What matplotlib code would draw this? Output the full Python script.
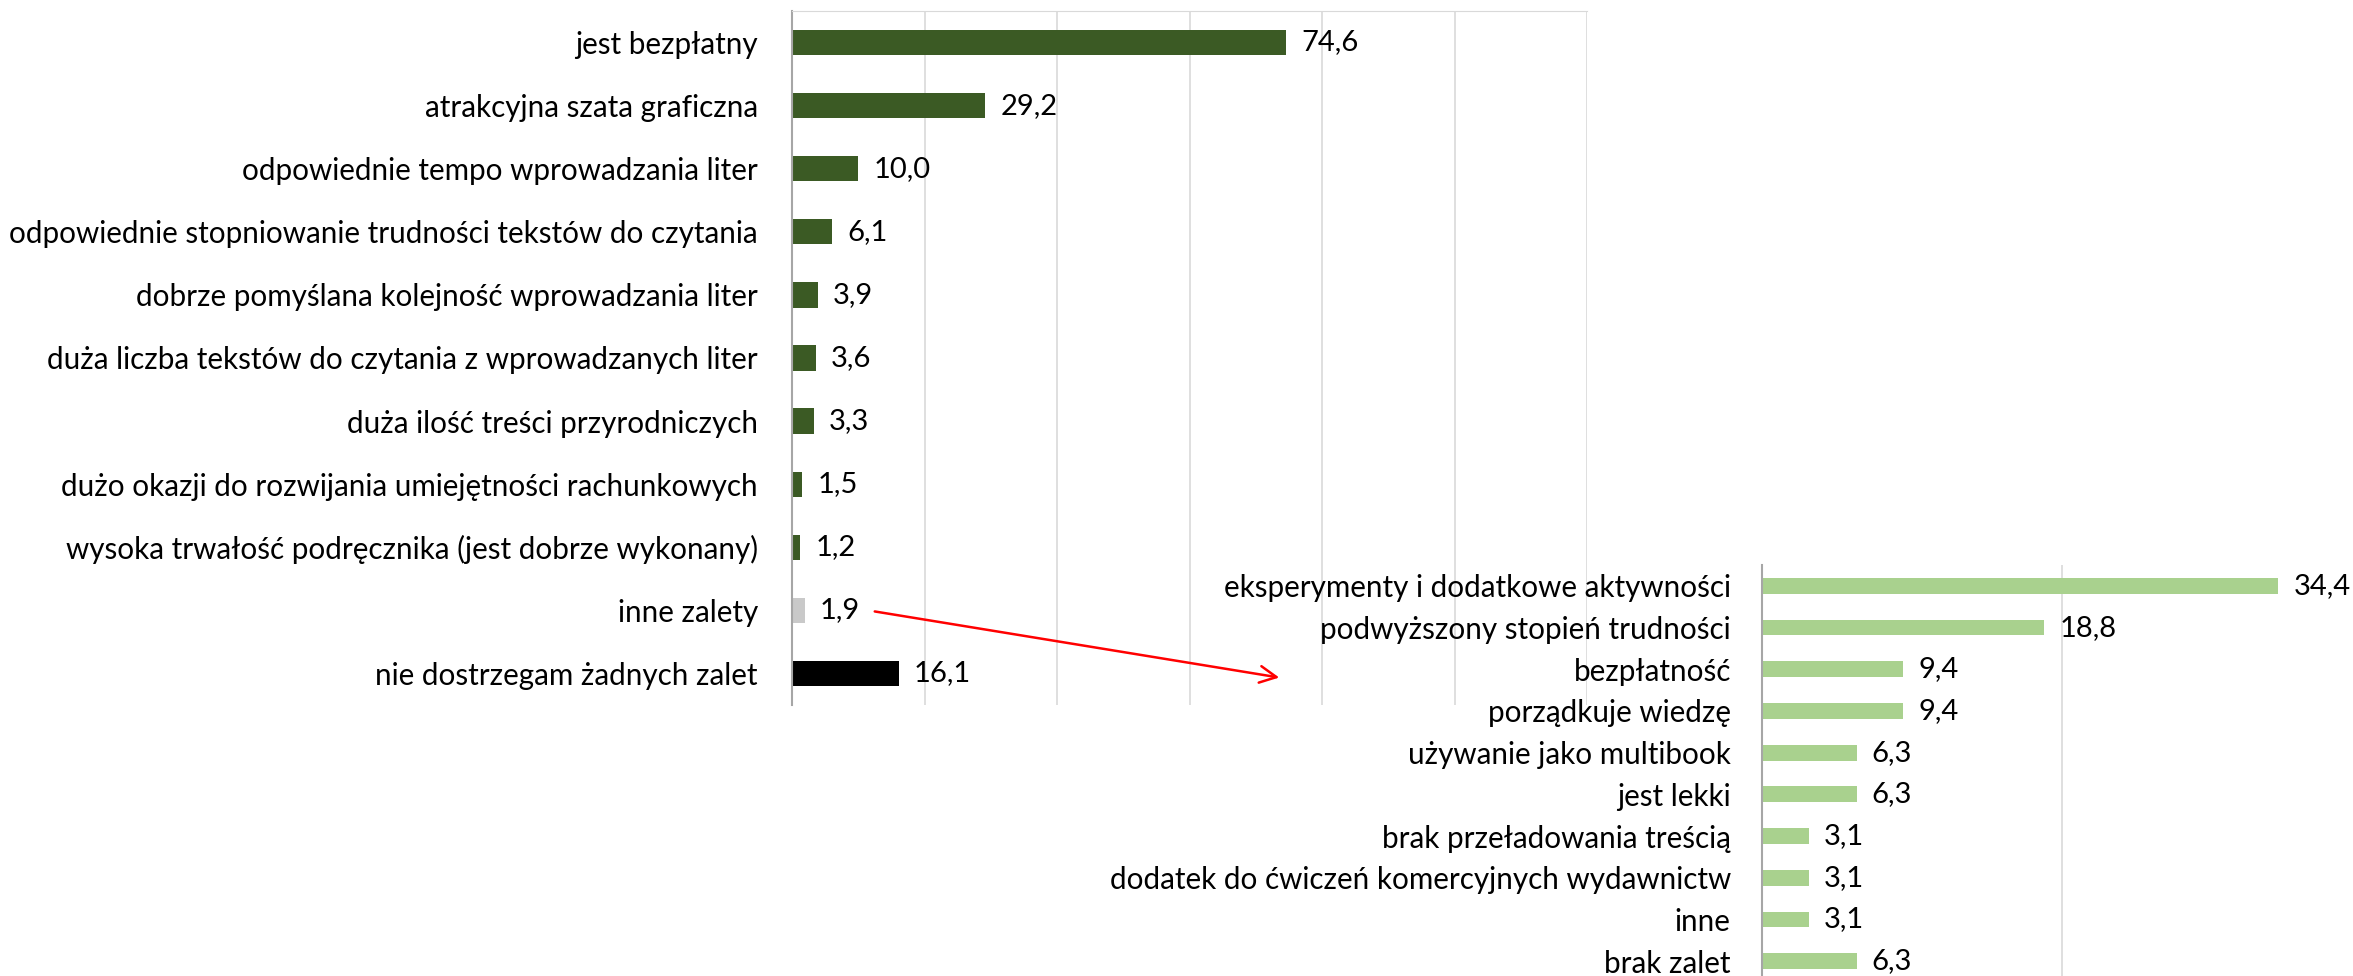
import matplotlib
matplotlib.use('Agg')
import matplotlib.pyplot as plt

plt.rcParams['font.family'] = ['Lato', 'DejaVu Sans']

# main chart
cats = ['jest bezpłatny', 'atrakcyjna szata graficzna', 'odpowiednie tempo wprowadzania liter',
        'odpowiednie stopniowanie trudności tekstów do czytania',
        'dobrze pomyślana kolejność wprowadzania liter',
        'duża liczba tekstów do czytania z wprowadzanych liter',
        'duża ilość treści przyrodniczych',
        'dużo okazji do rozwijania umiejętności rachunkowych',
        'wysoka trwałość podręcznika (jest dobrze wykonany)',
        'inne zalety', 'nie dostrzegam żadnych zalet']
vals = [74.6, 29.2, 10.0, 6.1, 3.9, 3.6, 3.3, 1.5, 1.2, 1.9, 16.1]
colors = ['#3b5a24'] * 9 + ['#c9c9c9', '#000000']

# breakdown of "inne zalety"
cats2 = ['eksperymenty i dodatkowe aktywności', 'podwyższony stopień trudności', 'bezpłatność',
         'porządkuje wiedzę', 'używanie jako multibook', 'jest lekki',
         'brak przeładowania treścią', 'dodatek do ćwiczeń komercyjnych wydawnictw',
         'inne', 'brak zalet']
vals2 = [34.4, 18.8, 9.4, 9.4, 6.3, 6.3, 3.1, 3.1, 3.1, 6.3]

W, H = 2353, 976
fig = plt.figure(figsize=(W / 100, H / 100), dpi=100)


def fmt(v):
    return f'{v:.1f}'.replace('.', ',')


def setup(ax, n, xmax, pad):
    ax.set_xlim(0, xmax)
    ax.set_ylim(n - 0.5, -0.5)
    ax.set_xticks(range(0, xmax + 1, 20))
    ax.xaxis.grid(True, color='#d9d9d9', lw=1.2)
    ax.set_axisbelow(True)
    ax.tick_params(axis='x', bottom=False, labelbottom=False)
    ax.tick_params(axis='y', left=False, pad=pad, labelsize=21.3)
    for s in ['top', 'right', 'bottom']:
        ax.spines[s].set_visible(False)
    ax.spines['left'].set_color('#a6a6a6')
    ax.spines['left'].set_linewidth(1.5)


ax1 = fig.add_axes([792 / W, 1 - 705 / H, (1587 - 792) / W, (705 - 11) / H])
y1 = list(range(len(cats)))
ax1.barh(y1, vals, height=0.4, color=colors)
ax1.set_yticks(y1)
ax1.set_yticklabels(cats)
setup(ax1, len(cats), 120, 21)
ax1.spines['top'].set_visible(True)
ax1.spines['top'].set_color('#d9d9d9')
for y, v in zip(y1, vals):
    ax1.annotate(fmt(v), (v, y), xytext=(11, 0), textcoords='offset points',
                 va='center', ha='left', fontsize=21)

ax2 = fig.add_axes([1762 / W, 1 - 982 / H, 600 / W, (982 - 565) / H])
y2 = list(range(len(cats2)))
ax2.barh(y2, vals2, height=0.38, color='#a9d18e')
ax2.set_yticks(y2)
ax2.set_yticklabels(cats2)
setup(ax2, len(cats2), 40, 19)
for y, v in zip(y2, vals2):
    ax2.annotate(fmt(v), (v, y), xytext=(11, 0), textcoords='offset points',
                 va='center', ha='left', fontsize=21)

# arrow from "inne zalety" to the breakdown
fig.add_artist(matplotlib.patches.FancyArrowPatch(
    (872 / W, 1 - 611 / H), (1282 / W, 1 - 678 / H), transform=fig.transFigure,
    arrowstyle='->,head_length=12,head_width=6', color='#ff0000', lw=1.8))

fig.savefig('out.png', dpi=100)
